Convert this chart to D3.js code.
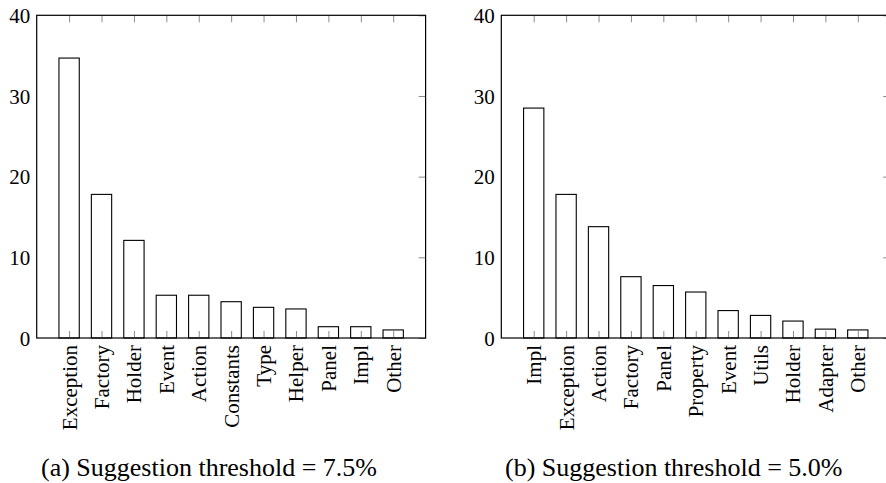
<!DOCTYPE html>
<html>
<head>
<meta charset="utf-8">
<script src="https://cdn.jsdelivr.net/npm/d3@7"></script>
<style>
  body { margin: 0; background: #fff; }
  svg text { font-family: "Liberation Serif", "DejaVu Serif", serif; fill: #000; }
</style>
</head>
<body>
<div id="chart"></div>
<script>
// data
const catsA = ["Exception", "Factory", "Holder", "Event", "Action", "Constants", "Type", "Helper", "Panel", "Impl", "Other"];
const valsA = [34.7, 17.8, 12.1, 5.3, 5.3, 4.5, 3.8, 3.6, 1.4, 1.4, 1.0];
const catsB = ["Impl", "Exception", "Action", "Factory", "Panel", "Property", "Event", "Utils", "Holder", "Adapter", "Other"];
const valsB = [28.5, 17.8, 13.8, 7.6, 6.5, 5.7, 3.4, 2.8, 2.1, 1.1, 1.0];
const yTicks = [0, 10, 20, 30, 40];
const captionA = "(a) Suggestion threshold = 7.5%";
const captionB = "(b) Suggestion threshold = 5.0%";

const width = 886, height = 483;
const plotTop = 15.3, plotBottom = 338;
const tickLen = 7;

const svg = d3.select("#chart")
    .append("svg")
    .attr("width", width)
    .attr("height", height);

const y = d3.scaleLinear().domain([0, 40]).range([plotBottom, plotTop]);

function drawPanel(cats, vals, x0, x1, caption, capX) {
    const x = d3.scalePoint().domain(cats).range([x0, x1]).padding(1);
    const g = svg.append("g");
    const barW = 20.3;

    // bars
    g.append("g")
        .selectAll("rect")
        .data(cats)
        .join("rect")
        .attr("x", d => x(d) - barW / 2)
        .attr("y", (d, i) => y(vals[i]))
        .attr("width", barW)
        .attr("height", (d, i) => y(0) - y(vals[i]))
        .attr("fill", "#fff")
        .attr("stroke", "#000")
        .attr("stroke-width", 1.1);

    // inner ticks (bottom, top, right)
    const tickStyle = sel => {
        sel.select(".domain").remove();
        sel.selectAll(".tick line").attr("stroke", "#8a8a8a").attr("stroke-width", 1);
        sel.selectAll(".tick text").remove();
    };
    g.append("g")
        .attr("transform", `translate(0,${plotBottom})`)
        .call(d3.axisBottom(x).tickSize(-tickLen))
        .call(tickStyle);
    g.append("g")
        .attr("transform", `translate(0,${plotTop})`)
        .call(d3.axisTop(x).tickSize(-tickLen))
        .call(tickStyle);
    g.append("g")
        .attr("transform", `translate(${x1},0)`)
        .call(d3.axisRight(y).tickValues(yTicks).tickSize(-tickLen))
        .call(tickStyle);

    // frame
    g.append("rect")
        .attr("x", x0)
        .attr("y", plotTop)
        .attr("width", x1 - x0)
        .attr("height", plotBottom - plotTop)
        .attr("fill", "none")
        .attr("stroke", "#000")
        .attr("stroke-width", 1.2);

    // y labels
    const yl = g.append("g")
        .attr("transform", `translate(${x0},0)`)
        .call(d3.axisLeft(y).tickValues(yTicks).tickSize(0).tickPadding(6.5));
    yl.select(".domain").remove();
    yl.selectAll("text").style("font-size", "21px").attr("dy", "0.34em");

    // x labels, rotated
    const xl = g.append("g")
        .attr("transform", `translate(0,${plotBottom})`)
        .call(d3.axisBottom(x).tickSize(0));
    xl.select(".domain").remove();
    xl.selectAll("text")
        .style("font-size", "21px")
        .attr("text-anchor", "end")
        .attr("transform", "rotate(-90)")
        .attr("x", -7)
        .attr("y", 0)
        .attr("dy", "0.33em");

    // caption
    svg.append("text")
        .attr("x", capX)
        .attr("y", 476)
        .style("font-size", "26px")
        .text(caption);
}

drawPanel(catsA, valsA, 36.7, 425.6, captionA, 41);
drawPanel(catsB, valsB, 501.3, 890.2, captionB, 505);
</script>
</body>
</html>
